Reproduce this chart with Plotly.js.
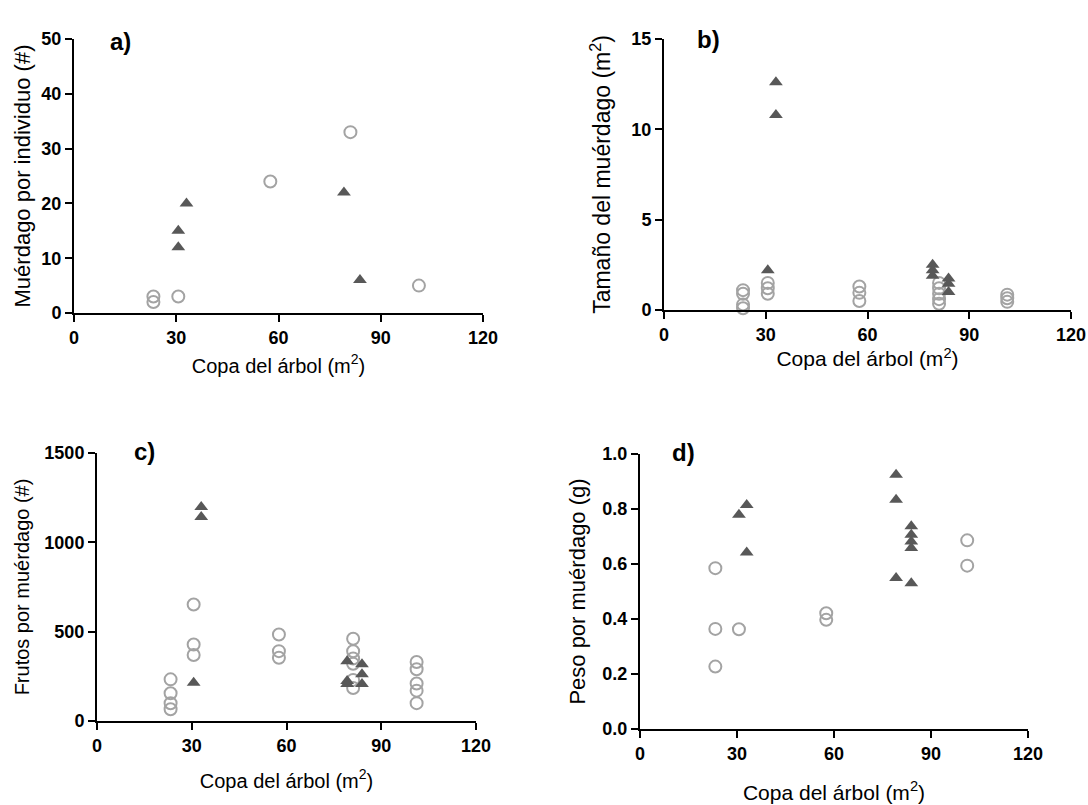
<!DOCTYPE html>
<html>
<head>
<meta charset="utf-8">
<script src="https://cdn.plot.ly/plotly-3.0.1.min.js"></script>
<style>html,body{margin:0;padding:0;background:#fff;}#chart{width:1088px;height:805px;}</style>
</head>
<body>
<div id="chart"></div>
<script>
// Tick labels
const xTicks = [0, 30, 60, 90, 120];
const aYTicks = [0, 10, 20, 30, 40, 50];
const bYTicks = [0, 5, 10, 15];
const cYTicks = [0, 500, 1000, 1500];
const dYTicks = [0, 0.2, 0.4, 0.6, 0.8, 1.0];

// Panel a: Muérdago por individuo (#)
const aOpenX = [23.3, 23.3, 30.6, 57.6, 81.1, 101.2];
const aOpenY = [3, 2, 3, 24, 33, 5];
const aTriX = [30.6, 30.6, 33, 79.2, 83.9];
const aTriY = [15, 12, 20, 22, 6];

// Panel b: Tamaño del muérdago (m2)
const bOpenX = [23.3, 23.3, 23.3, 23.3, 30.6, 30.6, 30.6, 57.6, 57.6, 57.6, 81.1, 81.1, 81.1, 81.1, 81.1, 101.2, 101.2, 101.2];
const bOpenY = [1.1, 0.9, 0.3, 0.1, 1.5, 1.2, 0.9, 1.3, 0.95, 0.5, 1.5, 1.2, 0.9, 0.6, 0.35, 0.85, 0.65, 0.45];
const bTriX = [30.6, 33, 33, 79.2, 79.2, 79.2, 83.9, 83.9, 83.9];
const bTriY = [2.2, 12.6, 10.8, 2.5, 2.2, 1.9, 1.75, 1.45, 1.0];

// Panel c: Frutos por muérdago (#)
const cOpenX = [23.3, 23.3, 23.3, 23.3, 30.6, 30.6, 30.6, 57.6, 57.6, 57.6, 81.1, 81.1, 81.1, 81.1, 81.1, 81.1, 101.2, 101.2, 101.2, 101.2, 101.2];
const cOpenY = [233, 155, 99, 66, 652, 428, 369, 484, 391, 354, 460, 390, 350, 320, 230, 185, 330, 290, 210, 170, 100];
const cTriX = [30.6, 33, 33, 79.2, 79.2, 79.2, 83.9, 83.9, 83.9];
const cTriY = [214, 1198, 1142, 335, 224, 207, 317, 261, 207];

// Panel d: Peso por muérdago (g)
const dOpenX = [23.3, 23.3, 23.3, 30.6, 57.6, 57.6, 101.2, 101.2];
const dOpenY = [0.585, 0.364, 0.227, 0.363, 0.421, 0.397, 0.686, 0.594];
const dTriX = [30.6, 33, 33, 79.2, 79.2, 79.2, 83.9, 83.9, 83.9, 83.9, 83.9];
const dTriY = [0.779, 0.815, 0.642, 0.925, 0.834, 0.549, 0.737, 0.706, 0.682, 0.658, 0.53];

const xTitle = 'Copa del árbol (m<sup>2</sup>)';
const W = 1088, H = 805;
const fx = p => p / W;
const fy = p => 1 - p / H;
const FAM = 'Liberation Sans, Arial, sans-serif';

const openMarker = {symbol: 'circle-open', size: 12, color: '#a3a3a3', line: {color: '#a3a3a3', width: 2}};
const triMarker = {symbol: 'triangle-up', size: 12, color: '#585858', line: {width: 0}};

function tr(x, y, xa, ya, marker) {
  return {x: x, y: y, xaxis: xa, yaxis: ya, type: 'scatter', mode: 'markers', marker: marker, cliponaxis: false, showlegend: false, hoverinfo: 'x+y'};
}

const data = [
  tr(aOpenX, aOpenY, 'x', 'y', openMarker), tr(aTriX, aTriY, 'x', 'y', triMarker),
  tr(bOpenX, bOpenY, 'x2', 'y2', openMarker), tr(bTriX, bTriY, 'x2', 'y2', triMarker),
  tr(cOpenX, cOpenY, 'x3', 'y3', openMarker), tr(cTriX, cTriY, 'x3', 'y3', triMarker),
  tr(dOpenX, dOpenY, 'x4', 'y4', openMarker), tr(dTriX, dTriY, 'x4', 'y4', triMarker)
];

const tickFont = {family: FAM, size: 18, color: '#000', weight: 'bold'};
const tf = s => ({family: FAM, size: s, color: '#000'});

function xAxis(d0, d1, anchor, tsize, standoff) {
  return {domain: [fx(d0), fx(d1)], anchor: anchor, range: [0, 120], tickvals: xTicks, ticktext: xTicks.map(String),
    showline: true, linecolor: '#000', linewidth: 2, ticks: 'outside', ticklen: 7, tickwidth: 2, tickcolor: '#000',
    showgrid: false, zeroline: false, tickfont: tickFont, fixedrange: true,
    title: {text: xTitle, font: tf(tsize), standoff: standoff}};
}
function yAxis(d0, d1, anchor, range, ticks, fmt, title, tsize, standoff) {
  return {domain: [fy(d1), fy(d0)], anchor: anchor, range: range, tickvals: ticks, ticktext: ticks.map(fmt),
    showline: true, linecolor: '#000', linewidth: 2, ticks: 'outside', ticklen: 7, tickwidth: 2, tickcolor: '#000',
    showgrid: false, zeroline: false, tickfont: tickFont, fixedrange: true,
    title: {text: title, font: tf(tsize), standoff: standoff}};
}

const lab = (t, x, y) => ({text: '<b>' + t + '</b>', x: fx(x), y: fy(y), xref: 'paper', yref: 'paper', showarrow: false, font: {family: FAM, size: 24, color: '#000'}});

const layout = {
  width: W, height: H, margin: {l: 0, r: 0, t: 0, b: 0},
  paper_bgcolor: '#fff', plot_bgcolor: '#fff', showlegend: false,
  xaxis: xAxis(74, 483, 'y', 20, 12),
  yaxis: yAxis(39, 313, 'x', [0, 50], aYTicks, v => String(v), 'Muérdago por individuo (#)', 22, 5),
  xaxis2: xAxis(664, 1071, 'y2', 21, 8),
  yaxis2: yAxis(39, 310, 'x2', [0, 15], bYTicks, v => String(v), 'Tamaño del muérdago (m<sup>2</sup>)', 23, 14),
  xaxis3: xAxis(97, 476, 'y3', 20, 19),
  yaxis3: yAxis(453, 721, 'x3', [0, 1500], cYTicks, v => String(v), 'Frutos por muérdago (#)', 20, 9),
  xaxis4: xAxis(640, 1028, 'y4', 21, 23),
  yaxis4: yAxis(454, 729, 'x4', [0, 1.0], dYTicks, v => v.toFixed(1), 'Peso por muérdago (g)', 22, 11),
  annotations: [
    lab('a)', 108, 26), lab('b)', 708, 24), lab('c)', 132, 451), lab('d)', 683, 452)
  ]
};

Plotly.newPlot('chart', data, layout, {displayModeBar: false, staticPlot: true});
</script>
</body>
</html>
